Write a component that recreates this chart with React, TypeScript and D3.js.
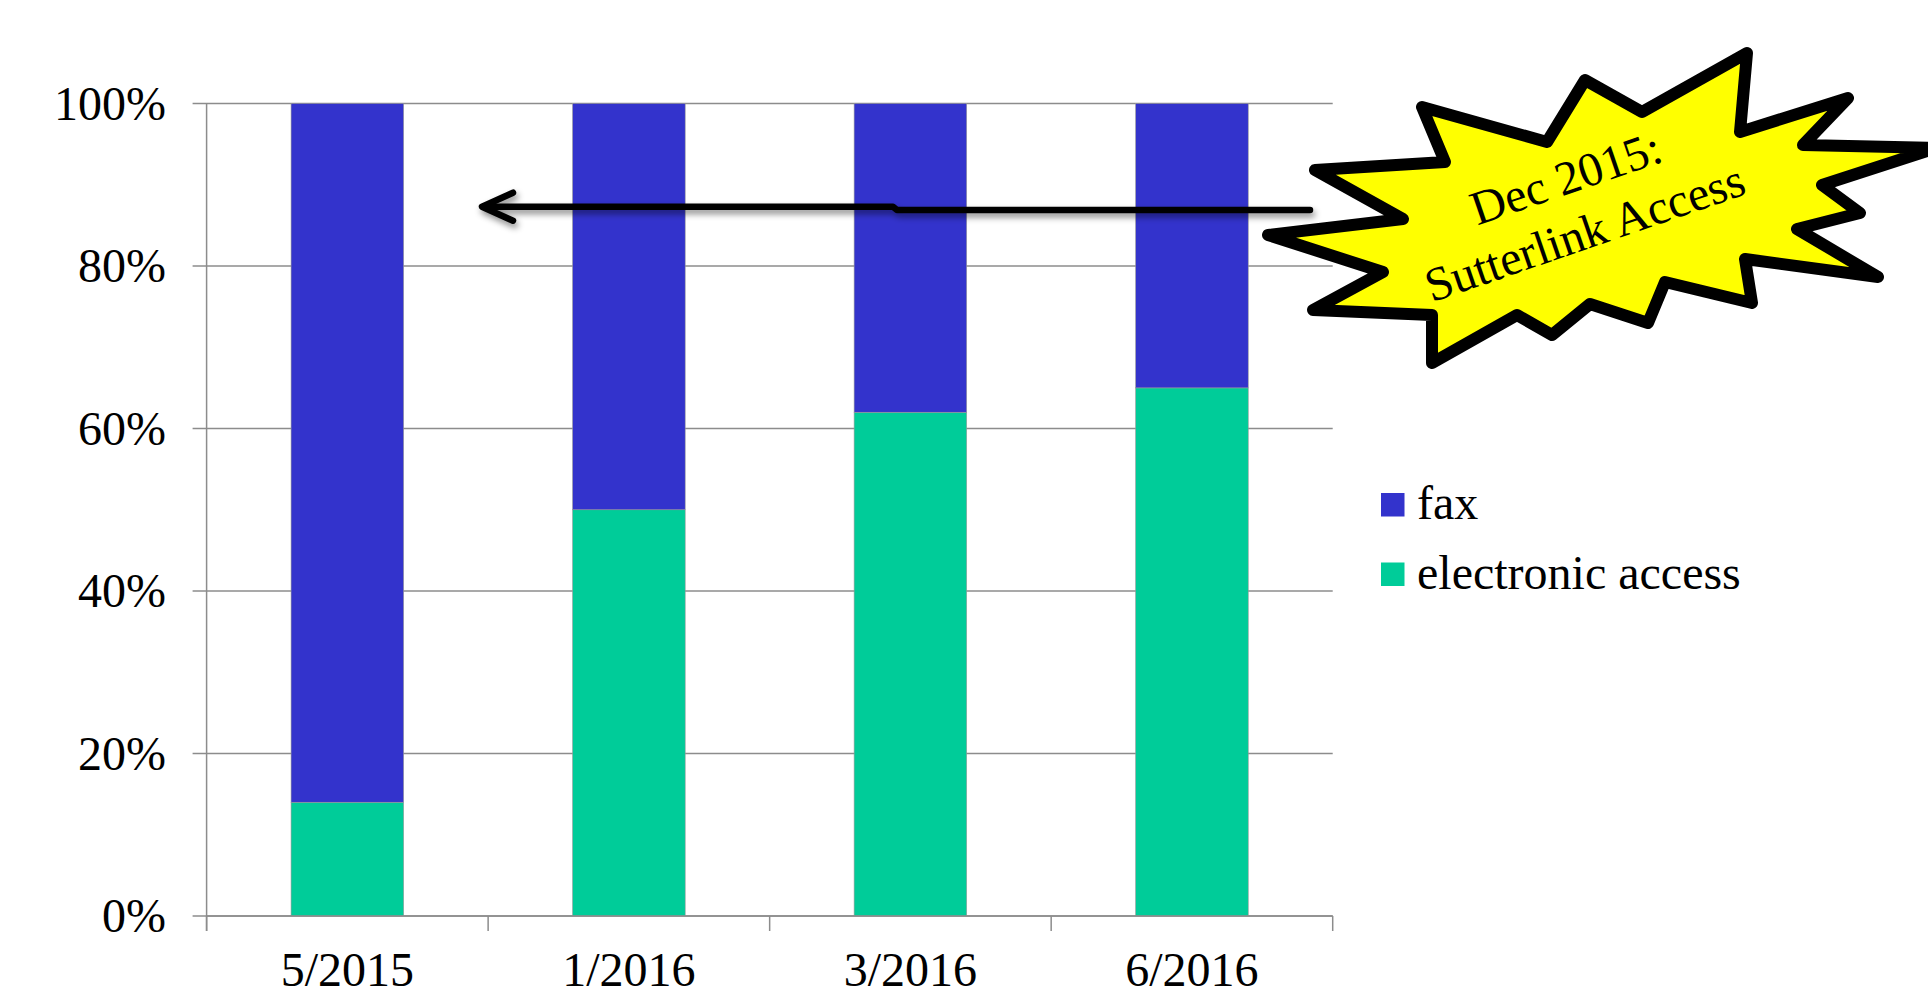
import React from "react";
import * as d3 from "d3";

const categories = ["5/2015", "1/2016", "3/2016", "6/2016"];
const electronicAccess = [14, 50, 62, 65];
const fax = [86, 50, 38, 35];
const yTicks = [0, 20, 40, 60, 80, 100];
const seriesNames = ["fax", "electronic access"];
const seriesColors = ["#3333CC", "#00CC99"];
const calloutLines = ["Dec 2015:", "Sutterlink Access"];

// starburst callout outline (annotation shape, pixel coords)
const burstPoints: [number, number][] = [
  [1315, 170], [1445, 162], [1422, 107], [1547, 142], [1585, 80], [1642, 112],
  [1747, 53], [1740, 132], [1848, 98], [1803, 145], [1936, 148], [1822, 185],
  [1860, 213], [1797, 229], [1878, 277], [1745, 259], [1752, 303], [1665, 282],
  [1648, 323], [1590, 304], [1552, 335], [1517, 315], [1432, 363], [1432, 315],
  [1313, 310], [1383, 272], [1268, 235], [1403, 219],
];

const W = 1928;
const H = 992;
const left = 206.6;
const right = 1332.7;
const top = 103.5;
const bottom = 916;
const FONT = "'Liberation Serif', 'Times New Roman', serif";

export default function App() {
  const x = d3
    .scaleBand<string>()
    .domain(categories)
    .range([left, right])
    .paddingInner(0.6)
    .paddingOuter(0.3);
  const y = d3.scaleLinear().domain([0, 100]).range([bottom, top]);
  const step = x.step();
  const boundaries = categories.map((_, i) => left + i * step).concat([right]);

  const rows = categories.map((c, i) => ({ c, e: electronicAccess[i], f: fax[i] }));
  const burst = d3.line()(burstPoints) + "Z";

  const arrowY1 = y(87.3);
  const arrowY2 = y(86.9);

  return (
    <svg
      width={W}
      height={H}
      style={{ position: "fixed", left: 0, top: 0, background: "#fff" }}
      fontFamily={FONT}
    >
      <defs>
        <filter id="shadow" x="-5%" y="-100%" width="110%" height="300%">
          <feDropShadow dx="2" dy="4" stdDeviation="3" floodColor="#000" floodOpacity="0.45" />
        </filter>
      </defs>
      <rect x={0} y={0} width={W} height={H} fill="#fff" />
      {/* gridlines + y ticks */}
      {yTicks.map((t) => (
        <line key={t} x1={left - 14} x2={right} y1={y(t)} y2={y(t)} stroke="#8c8c8c" strokeWidth={1.5} />
      ))}
      {/* bars */}
      {rows.map((r) => (
        <g key={r.c}>
          <rect x={x(r.c)} y={y(r.e)} width={x.bandwidth()} height={y(0) - y(r.e)} fill={seriesColors[1]} stroke="#9a9a9a" strokeWidth={0.6} />
          <rect x={x(r.c)} y={y(r.e + r.f)} width={x.bandwidth()} height={y(r.e) - y(r.e + r.f)} fill={seriesColors[0]} stroke="#9a9a9a" strokeWidth={0.6} />
        </g>
      ))}
      {/* axes */}
      <line x1={left} x2={left} y1={top} y2={bottom + 15} stroke="#8c8c8c" strokeWidth={1.5} />
      <line x1={left} x2={right} y1={bottom} y2={bottom} stroke="#8c8c8c" strokeWidth={1.5} />
      {boundaries.map((b, i) => (
        <line key={i} x1={b} x2={b} y1={bottom} y2={bottom + 15} stroke="#8c8c8c" strokeWidth={1.5} />
      ))}
      {yTicks.map((t) => (
        <text key={t} x={166} y={y(t) + 16} textAnchor="end" fontSize={48} fill="#000">
          {t}%
        </text>
      ))}
      {categories.map((c) => (
        <text key={c} x={(x(c) as number) + x.bandwidth() / 2} y={986} textAnchor="middle" fontSize={48} fill="#000">
          {c}
        </text>
      ))}
      {/* legend */}
      {seriesNames.map((s, i) => (
        <g key={s}>
          <rect x={1381} y={493 + i * 69.5} width={23.5} height={23.5} fill={seriesColors[i]} />
          <text x={1417} y={519 + i * 69.5} fontSize={48} fill="#000">
            {s}
          </text>
        </g>
      ))}
      {/* arrow */}
      <g filter="url(#shadow)" stroke="#000" strokeWidth={6.5} fill="none" strokeLinecap="round" strokeLinejoin="round">
        <path d={`M1310,${arrowY2} L897,${arrowY2} L893,${arrowY1} L484,${arrowY1}`} />
        <path d={`M513,${arrowY1 - 14} L482,${arrowY1} L513,${arrowY1 + 14}`} />
      </g>
      {/* starburst callout */}
      <path d={burst} fill="#FFFF00" stroke="#000" strokeWidth={12} strokeLinejoin="round" />
      <g transform="translate(1590,248) rotate(-19)">
        {calloutLines.map((l, i) => (
          <text key={l} x={0} y={(i - 1) * 58} textAnchor="middle" fontSize={48} fill="#000">
            {l}
          </text>
        ))}
      </g>
    </svg>
  );
}
